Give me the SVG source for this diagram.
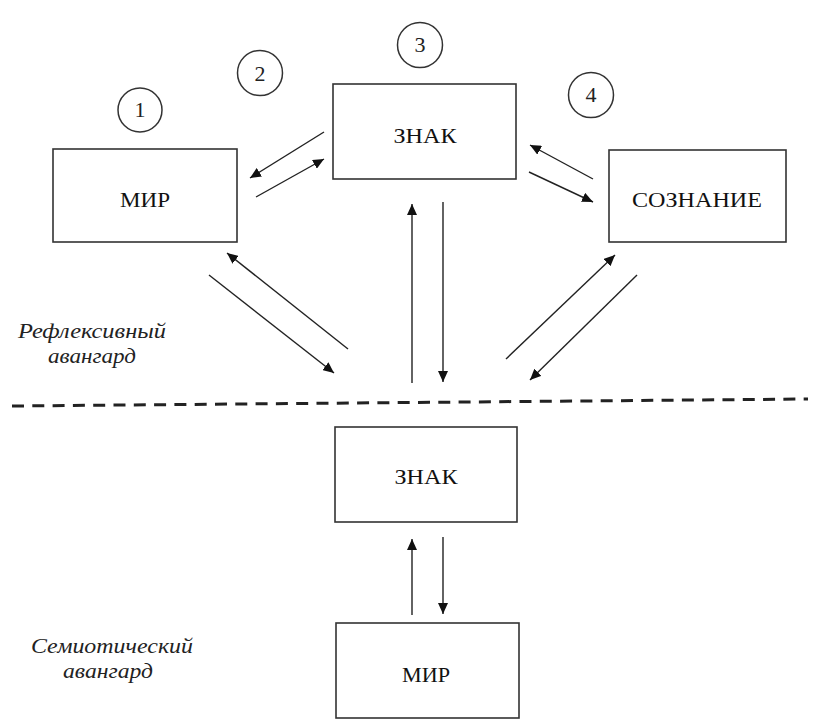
<svg xmlns="http://www.w3.org/2000/svg" width="816" height="724" viewBox="0 0 816 724">
<style>
.box{fill:#fff;stroke:#333;stroke-width:1.6}
.circ{fill:#fff;stroke:#333;stroke-width:1.5}
.lbl{font-size:20px;fill:#111;text-anchor:middle}
.num{font-size:22px;fill:#222;text-anchor:middle}
.ital{font-size:21px;font-style:italic;fill:#222;text-anchor:middle}
.conn line{stroke:#222;stroke-width:1.4;marker-end:url(#ah)}
</style>
<defs>
<marker id="ah" markerUnits="userSpaceOnUse" markerWidth="12" markerHeight="10" refX="11" refY="5" orient="auto">
<path d="M0,0 L11,5 L0,10 z" fill="#111"/>
</marker>
</defs>
<rect width="816" height="724" fill="#fff"/>
<g font-family="Liberation Serif, Times New Roman, serif">
<g id="circle1"><circle class="circ" cx="140" cy="110" r="22"/><text class="num" x="140" y="117">1</text></g>
<g id="circle2"><circle class="circ" cx="260" cy="73" r="22.5"/><text class="num" x="260" y="81">2</text></g>
<g id="circle3"><circle class="circ" cx="420" cy="45" r="22.5"/><text class="num" x="420" y="52">3</text></g>
<g id="circle4"><circle class="circ" cx="591" cy="95" r="22.5"/><text class="num" x="591" y="102">4</text></g>
<g id="mir-top"><rect class="box" x="53" y="149" width="184" height="93"/><text class="lbl" x="145" y="207" textLength="50" lengthAdjust="spacingAndGlyphs">МИР</text></g>
<g id="znak-top"><rect class="box" x="333" y="84" width="183" height="95"/><text class="lbl" x="425" y="143" textLength="63" lengthAdjust="spacingAndGlyphs">ЗНАК</text></g>
<g id="soznanie"><rect class="box" x="609" y="150" width="177" height="92"/><text class="lbl" x="697" y="207" textLength="130" lengthAdjust="spacingAndGlyphs">СОЗНАНИЕ</text></g>
<g id="znak-bottom"><rect class="box" x="335" y="427" width="182" height="95"/><text class="lbl" x="426" y="484" textLength="63" lengthAdjust="spacingAndGlyphs">ЗНАК</text></g>
<g id="mir-bottom"><rect class="box" x="336" y="623" width="183" height="95"/><text class="lbl" x="426" y="682" textLength="48" lengthAdjust="spacingAndGlyphs">МИР</text></g>
<g id="label-reflexive"><text class="ital" x="92" y="338" textLength="148" lengthAdjust="spacingAndGlyphs">Рефлексивный</text><text class="ital" x="92" y="363" textLength="88" lengthAdjust="spacingAndGlyphs">авангард</text></g>
<g id="label-semiotic"><text class="ital" x="112" y="653" textLength="162" lengthAdjust="spacingAndGlyphs">Семиотический</text><text class="ital" x="108" y="678" textLength="90" lengthAdjust="spacingAndGlyphs">авангард</text></g>
</g>
<g id="divider"><line x1="12" y1="406" x2="808" y2="399" stroke="#222" stroke-width="3" stroke-dasharray="12 8.3"/></g>
<g id="connectors" class="conn">
<line x1="324" y1="132" x2="250" y2="178"/>
<line x1="256" y1="197" x2="324" y2="159"/>
<line x1="593" y1="179" x2="530" y2="145"/>
<line x1="529" y1="172" x2="593" y2="202"/>
<line x1="412" y1="383" x2="412" y2="204"/>
<line x1="443" y1="202" x2="443" y2="382"/>
<line x1="348" y1="349" x2="227" y2="253"/>
<line x1="209" y1="275" x2="334" y2="373"/>
<line x1="506" y1="359" x2="615" y2="255"/>
<line x1="637" y1="275" x2="530" y2="380"/>
<line x1="412" y1="615" x2="412" y2="539"/>
<line x1="443" y1="537" x2="443" y2="614"/>
</g>
</svg>
